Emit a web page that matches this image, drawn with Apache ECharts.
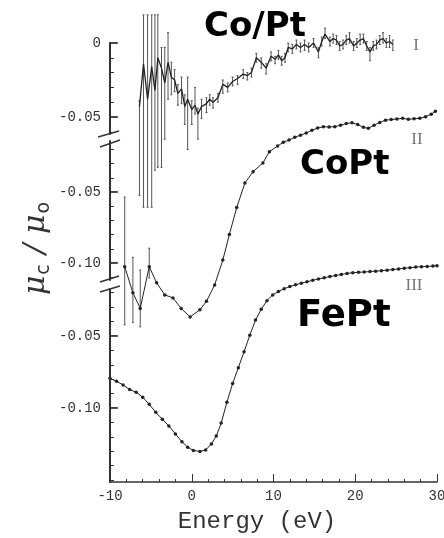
<!DOCTYPE html>
<html>
<head>
<meta charset="utf-8">
<script src="https://cdn.jsdelivr.net/npm/echarts@6/dist/echarts.min.js"></script>
<style>
  html, body { margin: 0; padding: 0; background: #fff; }
  #chart { width: 444px; height: 538px; }
</style>
</head>
<body>
<div id="chart"></div>
<script>
// Panel I : Co/Pt multilayer (noisy, with error bars)
const coPtMLx = [-6.4, -5.9, -5.4, -4.9, -4.5, -4.15, -3.7, -3.3, -2.9, -2.5, -2.1, -1.7, -1.25, -0.85, -0.5, 0.0, 0.4, 0.75, 1.2, 1.8,
  2.2, 2.6, 3.2, 3.8, 4.4, 5.0, 5.6, 6.3, 6.8, 7.3, 7.9, 8.5, 9.1, 9.7, 10.2, 10.6, 11.0, 11.4, 11.8, 12.3,
  12.8, 13.3, 13.8, 14.3, 14.9, 15.5, 15.9, 16.3, 16.9, 17.3, 17.7, 18.1, 18.5, 18.9, 19.3, 19.8, 20.2, 20.6, 21.0, 21.4,
  21.8, 22.2, 22.6, 23.0, 23.4, 23.8, 24.2, 24.6];
const coPtMLy = [-0.043, -0.014, -0.038, -0.016, -0.032, -0.010, -0.017, -0.027, -0.013, -0.023, -0.025, -0.034, -0.031, -0.043, -0.038, -0.045, -0.042, -0.048, -0.043, -0.041,
  -0.038, -0.040, -0.037, -0.028, -0.030, -0.026, -0.024, -0.021, -0.022, -0.020, -0.010, -0.013, -0.017, -0.009, -0.011, -0.008, -0.012, -0.010, -0.003, -0.004,
  -0.001, -0.003, -0.001, -0.003, 0.000, -0.006, 0.001, 0.006, 0.001, 0.003, 0.002, -0.002, -0.001, 0.002, 0.003, -0.002, 0.000, 0.002, 0.003, -0.002,
  -0.006, -0.002, -0.001, 0.002, 0.003, 0.000, 0.001, -0.001];
const coPtMLerrUp = [0.004, 0.033, 0.057, 0.035, 0.051, 0.029, 0.014, 0.024, 0.020, 0.010, 0.007, 0.006, 0.008, 0.008, 0.015, 0.006, 0.012, 0.004, 0.005, 0.004,
  0.003, 0.003, 0.003, 0.003, 0.003, 0.003, 0.002, 0.003, 0.002, 0.003, 0.003, 0.003, 0.003, 0.003, 0.002, 0.003, 0.003, 0.003, 0.003, 0.003,
  0.003, 0.003, 0.003, 0.003, 0.003, 0.003, 0.003, 0.004, 0.003, 0.003, 0.003, 0.003, 0.003, 0.003, 0.004, 0.003, 0.003, 0.004, 0.003, 0.003,
  0.003, 0.003, 0.003, 0.003, 0.004, 0.003, 0.004, 0.003];
const coPtMLerrDn = [0.060, 0.097, 0.073, 0.095, 0.054, 0.074, 0.067, 0.038, 0.025, 0.012, 0.008, 0.008, 0.010, 0.012, 0.034, 0.010, 0.006, 0.017, 0.008, 0.006,
  0.004, 0.004, 0.003, 0.006, 0.003, 0.003, 0.004, 0.003, 0.003, 0.003, 0.003, 0.004, 0.004, 0.003, 0.003, 0.003, 0.003, 0.003, 0.003, 0.003,
  0.003, 0.003, 0.004, 0.003, 0.003, 0.004, 0.003, 0.003, 0.003, 0.003, 0.003, 0.003, 0.003, 0.003, 0.003, 0.003, 0.003, 0.003, 0.003, 0.003,
  0.006, 0.003, 0.003, 0.003, 0.003, 0.003, 0.004, 0.004];

// Panel II : CoPt
const coPtX = [-8.2, -7.2, -6.3, -5.2, -4.3, -3.3, -2.3, -1.3, -0.2, 1.0, 1.8, 2.8, 3.8, 4.6, 5.5, 6.5, 7.5, 8.7, 9.5, 10.5,
  11.2, 11.9, 12.6, 13.3, 14.0, 14.7, 15.4, 16.1, 16.8, 17.5, 18.2, 18.9, 19.6, 20.3, 21.0, 21.6, 22.3, 23.0, 23.7, 24.4,
  25.1, 25.8, 26.5, 27.2, 27.9, 28.6, 29.3, 29.8];
const coPtY = [-0.1026, -0.121, -0.132, -0.1026, -0.114, -0.1225, -0.1246, -0.132, -0.138, -0.133, -0.127, -0.1155, -0.098, -0.080, -0.061, -0.0437, -0.0357, -0.0296, -0.0216, -0.0176,
  -0.0150, -0.0134, -0.0115, -0.0100, -0.0085, -0.0065, -0.0050, -0.0040, -0.0042, -0.0040, -0.0030, -0.0018, -0.0012, -0.0025, -0.0045, -0.0052, -0.0030, -0.0010, 0.0006, 0.0010,
  0.0014, 0.0019, 0.0012, 0.0016, 0.0019, 0.0030, 0.0048, 0.0068];
const coPtErrX = [-8.2, -7.2, -6.3, -5.2];
const coPtErrUp = [0.049, 0.025, 0.027, 0.013];
const coPtErrDn = [0.041, 0.021, 0.013, 0.008];

// Panel III : FePt
const fePtX = [-10, -9.2, -8.4, -7.6, -6.8, -6.0, -5.2, -4.4, -3.6, -2.8, -2.0, -1.2, -0.5, 0.2, 1.0, 1.7, 2.4, 3.0, 3.6, 4.3,
  5.0, 5.7, 6.4, 7.1, 7.8, 8.5, 9.2, 9.9, 10.6, 11.3, 12.0, 12.7, 13.4, 14.1, 14.8, 15.5, 16.2, 16.9, 17.6, 18.3,
  19.0, 19.7, 20.4, 21.1, 21.8, 22.5, 23.2, 23.9, 24.6, 25.3, 26.0, 26.7, 27.4, 28.1, 28.8, 29.5, 30.0];
const fePtY = [-0.0794, -0.0815, -0.0840, -0.0872, -0.0890, -0.0925, -0.0975, -0.1030, -0.1078, -0.1125, -0.1180, -0.1235, -0.1272, -0.1295, -0.1302, -0.1292, -0.1250, -0.1195, -0.1105, -0.0960,
  -0.0830, -0.0720, -0.0610, -0.0495, -0.0390, -0.0315, -0.0255, -0.0215, -0.0192, -0.0172, -0.0157, -0.0145, -0.0134, -0.0124, -0.0114, -0.0104, -0.0096, -0.0088, -0.0080, -0.0073,
  -0.0066, -0.0061, -0.0058, -0.0056, -0.0053, -0.0050, -0.0047, -0.0043, -0.0039, -0.0035, -0.0030, -0.0026, -0.0022, -0.0019, -0.0017, -0.0015, -0.0013];

const xTicks = [-10, 0, 10, 20, 30];
const panelLabels = ['I', 'II', 'III'];
const sampleNames = ['Co/Pt', 'CoPt', 'FePt'];

const ink = '#222';
const axisInk = '#333';
const monoFont = 'Liberation Mono';
const xMin = -10;
const xMax = 30;
const majorTickLen = 0.95; // in eV, about 8px

function pairs(xs, ys) { return xs.map((x, i) => [x, ys[i]]); }
function bars(xs, ys, up, dn) {
  return xs.map((x, i) => [x, ys[i] - dn[i], ys[i] + up[i]]);
}
function errorBar(params, api) {
  const x = api.value(0);
  const lo = api.coord([x, api.value(1)]);
  const hi = api.coord([x, api.value(2)]);
  const st = { stroke: '#555', lineWidth: 1 };
  return {
    type: 'group',
    children: [
      { type: 'line', shape: { x1: lo[0], y1: lo[1], x2: hi[0], y2: hi[1] }, style: st },
      { type: 'line', shape: { x1: lo[0] - 1, y1: lo[1], x2: lo[0] + 1, y2: lo[1] }, style: st },
      { type: 'line', shape: { x1: hi[0] - 1, y1: hi[1], x2: hi[0] + 1, y2: hi[1] }, style: st }
    ]
  };
}
// a straight segment between two data points, for the left axis and its long ticks
function segment(params, api) {
  const a = api.coord([api.value(0), api.value(1)]);
  const b = api.coord([api.value(2), api.value(3)]);
  return {
    type: 'group',
    children: [
      { type: 'polyline', shape: { points: [[a[0], a[1]], [b[0] + 0.01, b[1]]] }, style: { stroke: axisInk, lineWidth: 1.8, fill: null } }
    ]
  };
}

// three stacked panels sharing the energy axis
const panels = [
  { top: 43, height: 91, min: -0.0615, max: 0, labels: [0, -0.05], minor: [-0.01, -0.02, -0.03, -0.04, -0.06] },
  { top: 141, height: 139, min: -0.1120, max: -0.0141, labels: [-0.05, -0.10], minor: [-0.02, -0.03, -0.04, -0.06, -0.07, -0.08, -0.09, -0.11] },
  { top: 289, height: 193, min: -0.1514, max: -0.0174, labels: [-0.05, -0.10], minor: [-0.02, -0.03, -0.04, -0.06, -0.07, -0.08, -0.09, -0.11, -0.12, -0.13, -0.14, -0.15] }
];

function axisSegments(p) {
  const segs = [[xMin, p.max, xMin, p.min]];
  p.labels.forEach(v => segs.push([xMin, v, xMin + majorTickLen, v]));
  return segs;
}

const grids = panels.map(p => ({ left: 110, right: 7, top: p.top, height: p.height, outerBoundsMode: 'none' }));
const xAxes = panels.map((p, i) => ({
  type: 'value', gridIndex: i, min: xMin, max: xMax, interval: 10,
  show: i === 2,
  axisLine: { onZero: false, lineStyle: { color: axisInk, width: 1.5 } },
  axisTick: { inside: true, length: 8, lineStyle: { color: axisInk } },
  minorTick: { show: true, splitNumber: 5, length: 3, lineStyle: { color: axisInk } },
  splitLine: { show: false },
  axisLabel: { margin: 7, fontFamily: monoFont, fontSize: 14, color: axisInk, customValues: xTicks }
}));
const yAxes = panels.map((p, i) => ({
  type: 'value', gridIndex: i, min: p.min, max: p.max, position: 'left',
  axisLine: { show: true, onZero: false, lineStyle: { color: axisInk, width: 2 } },
  axisTick: { show: true, inside: true, length: 4, customValues: p.minor, lineStyle: { color: axisInk } },
  splitLine: { show: false },
  axisLabel: {
    customValues: p.labels, margin: 9, fontFamily: monoFont, fontSize: 14, color: axisInk,
    formatter: v => (v === 0 ? '0' : v.toFixed(2))
  }
}));

const lineStyleBase = { color: ink, width: 1 };

const axisSeries = panels.map((p, i) => ({
  type: 'custom', xAxisIndex: i, yAxisIndex: i, clip: false, silent: true, z: 5,
  renderItem: segment, encode: { x: [0, 2], y: [1, 3] },
  data: axisSegments(p)
}));

const option = {
  animation: false,
  backgroundColor: '#fff',
  grid: grids,
  xAxis: xAxes,
  yAxis: yAxes,
  series: [
    {
      type: 'custom', xAxisIndex: 0, yAxisIndex: 0, clip: false,
      renderItem: errorBar, encode: { x: 0, y: [1, 2] },
      data: bars(coPtMLx, coPtMLy, coPtMLerrUp, coPtMLerrDn)
    },
    {
      type: 'line', xAxisIndex: 0, yAxisIndex: 0, clip: false, showSymbol: false,
      lineStyle: { color: ink, width: 1.3 }, data: pairs(coPtMLx, coPtMLy)
    },
    {
      type: 'custom', xAxisIndex: 1, yAxisIndex: 1, clip: false,
      renderItem: errorBar, encode: { x: 0, y: [1, 2] },
      data: bars(coPtErrX, coPtY.slice(0, coPtErrX.length), coPtErrUp, coPtErrDn)
    },
    {
      type: 'line', xAxisIndex: 1, yAxisIndex: 1, clip: false,
      symbol: 'circle', symbolSize: 3.5, itemStyle: { color: ink },
      lineStyle: lineStyleBase, data: pairs(coPtX, coPtY)
    },
    {
      type: 'line', xAxisIndex: 2, yAxisIndex: 2, clip: false,
      symbol: 'circle', symbolSize: 3.5, itemStyle: { color: ink },
      lineStyle: lineStyleBase, data: pairs(fePtX, fePtY)
    }
  ].concat(axisSeries),
  graphic: [
    // axis break marks
    { type: 'line', shape: { x1: 98, y1: 137, x2: 119, y2: 131 }, style: { stroke: axisInk, lineWidth: 1.5 } },
    { type: 'line', shape: { x1: 100, y1: 147, x2: 120, y2: 140 }, style: { stroke: axisInk, lineWidth: 1.5 } },
    { type: 'line', shape: { x1: 100, y1: 282, x2: 119, y2: 276 }, style: { stroke: axisInk, lineWidth: 1.5 } },
    { type: 'line', shape: { x1: 100, y1: 292, x2: 120, y2: 286 }, style: { stroke: axisInk, lineWidth: 1.5 } },
    // axis titles
    {
      type: 'text', x: 257, y: 522,
      style: { text: 'Energy (eV)', font: '24px "Liberation Mono"', fill: axisInk, textAlign: 'center', textVerticalAlign: 'middle' }
    },
    {
      type: 'text', x: 36, y: 248, rotation: Math.PI / 2,
      style: {
        text: '{m|μ}{s|c}{m| / μ}{s|o}', textAlign: 'center', textVerticalAlign: 'middle',
        rich: {
          m: { fontFamily: 'DejaVu Serif', fontStyle: 'italic', fontSize: 30, fill: axisInk, lineHeight: 36, verticalAlign: 'middle' },
          s: { fontFamily: 'DejaVu Sans', fontSize: 19, fill: axisInk, lineHeight: 36, verticalAlign: 'bottom', padding: [12, 1, 0, 1] }
        }
      }
    },
    // panel numerals
    { type: 'text', x: 416, y: 46, style: { text: panelLabels[0], font: '17px "Liberation Serif"', fill: '#777', textAlign: 'center', textVerticalAlign: 'middle' } },
    { type: 'text', x: 417, y: 140, style: { text: panelLabels[1], font: '17px "Liberation Serif"', fill: '#777', textAlign: 'center', textVerticalAlign: 'middle' } },
    { type: 'text', x: 414, y: 286, style: { text: panelLabels[2], font: '17px "Liberation Serif"', fill: '#777', textAlign: 'center', textVerticalAlign: 'middle' } },
    // handwritten sample names
    { type: 'text', x: 204, y: 10, style: { text: sampleNames[0], font: 'bold 34px "DejaVu Sans"', fill: '#000' } },
    { type: 'text', x: 300, y: 148, style: { text: sampleNames[1], font: 'bold 34px "DejaVu Sans"', fill: '#000' } },
    { type: 'text', x: 297, y: 298, style: { text: sampleNames[2], font: 'bold 37px "DejaVu Sans"', fill: '#000' } }
  ]
};

const chart = echarts.init(document.getElementById('chart'), null, { renderer: 'canvas' });
chart.setOption(option);
</script>
</body>
</html>
